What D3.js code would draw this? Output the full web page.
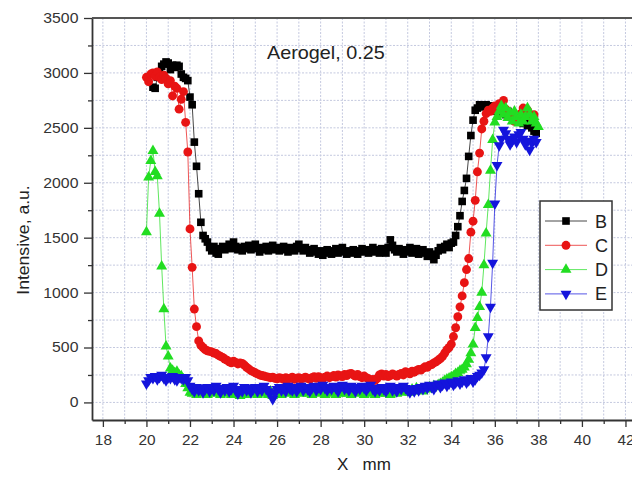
<!DOCTYPE html>
<html>
<head>
<meta charset="utf-8">
<script src="https://cdn.jsdelivr.net/npm/d3@7/dist/d3.min.js"></script>
<style>
  body { margin: 0; background: #fff; }
  svg { display: block; font-family: "Liberation Sans", Arial, sans-serif; }
</style>
</head>
<body>
<div id="chart"></div>
<script>
// Config
const width = 632;
const height = 481;
const plotLeft = 92, plotRight = 632, plotTop = 18, plotBottom = 420;

// Data: intensity, one value every 0.1 mm starting at x0
const step = 0.1;
const seriesNames = ["B", "C", "D", "E"];
const x0B = 20.3, x0C = 20.0, x0D = 20.0, x0E = 20.0;

const intensityB = [
  2870, 2860, 2960, 3010, 3060, 3080, 3100, 3090, 3030, 3070, 3050, 3070, 3060, 2990, 2960, 2950, 2930,
  2780, 2710, 2370, 2150, 1900, 1640, 1520, 1490, 1460, 1410,
  1380, 1420, 1360, 1350, 1400, 1420, 1390, 1410, 1440, 1400,
  1460, 1420, 1390, 1410, 1380, 1420, 1400, 1430, 1390, 1410,
  1440, 1400, 1370, 1410, 1390, 1420, 1380, 1400, 1430, 1390,
  1410, 1380, 1400, 1420, 1390, 1370, 1410, 1400, 1380, 1420,
  1440, 1400, 1380, 1410, 1390, 1360, 1380, 1400, 1370, 1350,
  1380, 1340, 1360, 1390, 1370, 1350, 1380, 1400, 1360, 1380,
  1410, 1370, 1350, 1380, 1360, 1390, 1370, 1350, 1380, 1400,
  1370, 1390, 1360, 1380, 1410, 1370, 1390, 1360, 1400, 1380,
  1360, 1410, 1480, 1430, 1390, 1370, 1400, 1380, 1350, 1390,
  1370, 1410, 1360, 1380, 1400, 1350, 1370, 1390, 1360, 1330,
  1370, 1350, 1300, 1340, 1380, 1410, 1390, 1420, 1440, 1410,
  1450, 1460, 1520, 1600, 1700, 1830, 1930, 2040, 2240, 2430,
  2570, 2660, 2680, 2710, 2700, 2690, 2710, 2680, 2700, 2660,
  2690, 2650, 2680, 2640, 2660, 2620, 2650, 2600, 2630, 2580,
  2620, 2560, 2600, 2540, 2580, 2520, 2560, 2500, 2470, 2450
];

const intensityC = [
  2960, 2920, 2990, 3000, 2970, 3010, 2960, 2940, 2980, 2950,
  2900, 2930, 2790, 2880, 2860, 2670, 2760, 2830, 2550, 2280,
  1580, 1230, 850, 690, 560, 520, 500, 480, 470, 465,
  460, 450, 445, 430, 420, 410, 395, 385, 370, 360,
  375, 365, 350, 360, 355, 340, 320, 305, 290, 280,
  270, 260, 250, 245, 240, 235, 230, 225, 230, 220,
  215, 225, 220, 210, 225, 215, 220, 230, 210, 220,
  225, 215, 220, 230, 220, 210, 225, 235, 220, 235,
  225, 215, 230, 240, 225, 235, 245, 230, 250, 240,
  235, 255, 245, 260, 265, 250, 240, 255, 235, 225,
  240, 225, 215, 205, 210, 200, 220, 250, 260, 240,
  255, 235, 245, 260, 250, 240, 255, 265, 250, 280,
  270, 260, 285, 275, 290, 300, 295, 310, 325, 320,
  340, 345, 360, 370, 385, 400, 420, 450, 480, 500,
  530, 600, 680, 780, 870, 970, 1090, 1210, 1310, 1550,
  1650, 1840, 2100, 2270, 2490, 2560, 2630, 2660, 2650, 2680,
  2700, 2660, 2720, 2700, 2750, 2670, 2640, 2600, 2620, 2560,
  2580, 2600, 2630, 2680, 2650, 2660, 2610, 2590, 2620
];

const intensityD = [
  1550, 2050, 2200, 2290, 2100, 2060, 1720, 1240, 850, 510,
  420, 310, 290, 270, 280, 250, 240, 210, 170, 130,
  90, 80, 100, 70, 90, 110, 80, 100, 70, 90,
  120, 80, 100, 90, 70, 110, 90, 80, 100, 70,
  90, 110, 80, 60, 90, 100, 70, 90, 110, 80,
  100, 70, 90, 80, 110, 90, 70, 100, 60, 90,
  80, 100, 70, 90, 110, 80, 100, 90, 70, 100,
  120, 80, 90, 110, 80, 100, 70, 90, 110, 80,
  100, 90, 70, 100, 80, 110, 90, 70, 100, 80,
  90, 110, 80, 100, 70, 90, 110, 80, 100, 90,
  70, 100, 80, 110, 90, 70, 100, 80, 90, 110,
  80, 100, 70, 90, 110, 80, 100, 90, 120, 100,
  110, 90, 120, 100, 130, 110, 120, 100, 130, 120,
  140, 130, 150, 140, 160, 170, 180, 200, 210, 220,
  230, 240, 260, 270, 290, 300, 320, 350, 390, 450,
  530, 680, 770, 870, 1000, 1250, 1540, 1800, 2110, 2390,
  2550, 2600, 2650, 2700, 2620, 2680, 2590, 2640, 2560, 2650,
  2600, 2540, 2620, 2560, 2600, 2680, 2620, 2560, 2600, 2540,
  2510
];

const intensityE = [
  170, 200, 230, 220, 240, 210, 230, 250, 220, 200,
  230, 220, 240, 210, 200, 230, 220, 210, 230, 200,
  150, 120, 100, 140, 110, 130, 90, 120, 140, 100,
  130, 110, 150, 120, 90, 130, 110, 140, 100, 120,
  150, 110, 80, 120, 100, 140, 110, 130, 90, 120,
  140, 100, 130, 110, 150, 120, 100, 90, 30, 80,
  120, 140, 110, 130, 100, 150, 120, 110, 140, 100,
  130, 150, 110, 140, 120, 100, 130, 150, 110, 140,
  120, 160, 130, 110, 140, 120, 150, 130, 100, 140,
  160, 120, 140, 110, 150, 130, 100, 140, 120, 150,
  130, 110, 140, 160, 120, 100, 130, 110, 140, 120,
  100, 130, 150, 110, 130, 100, 140, 120, 150, 130,
  110, 90, 120, 100, 130, 110, 140, 120, 150, 130,
  160, 140, 120, 150, 170, 140, 160, 180, 150, 170,
  190, 160, 180, 200, 170, 190, 210, 180, 200, 220,
  190, 210, 240, 250, 270, 300, 410, 600, 870, 1270,
  1810, 2160, 2340, 2400, 2480, 2450, 2400, 2350, 2380, 2420,
  2370, 2440, 2460, 2400, 2350, 2380, 2300, 2360, 2400, 2370
];

const xTicks = [18, 20, 22, 24, 26, 28, 30, 32, 34, 36, 38, 40, 42];
const xMinorTicks = [19, 21, 23, 25, 27, 29, 31, 33, 35, 37, 39, 41];
const yTicks = [0, 500, 1000, 1500, 2000, 2500, 3000, 3500];
const yMinorTicks = [250, 750, 1250, 1750, 2250, 2750, 3250];

const titleText = "Aerogel, 0.25";
const xLabel = "X   mm";
const yLabel = "Intensive, a.u.";

// Styles
const colors = { B: "#000000", C: "#e81414", D: "#22dd22", E: "#1414dc" };
const symbols = { B: d3.symbolSquare, C: d3.symbolCircle, D: d3.symbolTriangle, E: d3.symbolTriangle };
const symbolSizes = { B: 58, C: 62, D: 52, E: 52 };
const symbolRotate = { B: 0, C: 0, D: 0, E: 180 };

function buildSeries() {
    const raw = { B: [x0B, intensityB], C: [x0C, intensityC], D: [x0D, intensityD], E: [x0E, intensityE] };
    return seriesNames.map(name => {
        const [start, values] = raw[name];
        return {
            name,
            points: values.map((v, i) => [+(start + i * step).toFixed(2), v])
        };
    });
}

function init() {
    const svg = d3.select("#chart")
        .append("svg")
        .attr("width", width)
        .attr("height", height);

    const x = d3.scaleLinear().domain([17.5, 42.3]).range([plotLeft, plotRight]);
    const y = d3.scaleLinear().domain([-160, 3500]).range([plotBottom, plotTop]);

    // Grid
    const grid = svg.append("g").attr("class", "grid")
        .attr("stroke", "#c4c9df")
        .attr("stroke-width", 1)
        .attr("stroke-dasharray", "2,1.5");

    grid.selectAll(".gx")
        .data(xTicks.concat(xMinorTicks))
        .join("line")
        .attr("x1", d => x(d)).attr("x2", d => x(d))
        .attr("y1", plotTop).attr("y2", plotBottom);

    grid.selectAll(".gy")
        .data(yTicks.concat(yMinorTicks))
        .join("line")
        .attr("x1", plotLeft).attr("x2", plotRight)
        .attr("y1", d => y(d)).attr("y2", d => y(d));

    // Series
    const series = buildSeries();
    const line = d3.line().x(d => x(d[0])).y(d => y(d[1]));
    const plots = svg.append("g").attr("class", "plots");

    series.forEach(s => {
        const g = plots.append("g");
        g.append("path")
            .datum(s.points)
            .attr("d", line)
            .attr("fill", "none")
            .attr("stroke", colors[s.name])
            .attr("stroke-width", 0.9)
            .attr("stroke-opacity", 0.8);

        const sym = d3.symbol().type(symbols[s.name]).size(symbolSizes[s.name]);
        g.selectAll("path.pt")
            .data(s.points)
            .join("path")
            .attr("class", "pt")
            .attr("d", sym)
            .attr("transform", d => `translate(${x(d[0])},${y(d[1])}) rotate(${symbolRotate[s.name]})`)
            .attr("fill", colors[s.name]);
    });

    drawAxes(svg, x, y);
    drawLegend(svg);
    drawTexts(svg);
}

function drawAxes(svg, x, y) {
    const axisColor = "#333";

    // minor ticks
    svg.append("g")
        .attr("transform", `translate(0,${plotBottom})`)
        .call(d3.axisBottom(x).tickValues(xMinorTicks).tickSize(4).tickFormat(""))
        .call(g => g.select(".domain").remove());
    svg.append("g")
        .attr("transform", `translate(${plotLeft},0)`)
        .call(d3.axisLeft(y).tickValues(yMinorTicks).tickSize(4).tickFormat(""))
        .call(g => g.select(".domain").remove());

    const xAxis = svg.append("g")
        .attr("transform", `translate(0,${plotBottom})`)
        .call(d3.axisBottom(x).tickValues(xTicks).tickFormat(d3.format("d"))
            .tickSize(7).tickPadding(8).tickSizeOuter(0));
    const yAxis = svg.append("g")
        .attr("transform", `translate(${plotLeft},0)`)
        .call(d3.axisLeft(y).tickValues(yTicks).tickFormat(d3.format("d"))
            .tickSize(8).tickPadding(4).tickSizeOuter(0));

    [xAxis, yAxis].forEach(a => {
        a.select(".domain").attr("stroke", axisColor).attr("stroke-width", 1.8);
        a.selectAll(".tick text")
            .attr("fill", "#333")
            .style("font-size", "14px")
            .style("font-family", "'Liberation Sans', Arial, sans-serif");
    });
    xAxis.selectAll(".tick text").attr("transform", "scale(1.1,1)");
    yAxis.selectAll(".tick text").attr("transform", "scale(1.13,1)");
    svg.selectAll(".tick line").attr("stroke", axisColor).attr("stroke-width", 1.3);

    // top frame
    svg.append("line")
        .attr("x1", plotLeft).attr("x2", plotRight)
        .attr("y1", plotTop).attr("y2", plotTop)
        .attr("stroke", "#555").attr("stroke-width", 1.8);
}

function drawLegend(svg) {
    const lg = svg.append("g").attr("class", "legend");
    lg.append("rect")
        .attr("x", 540).attr("y", 201)
        .attr("width", 72).attr("height", 109)
        .attr("fill", "#fff")
        .attr("stroke", "#333")
        .attr("stroke-width", 1.5);

    seriesNames.forEach((name, i) => {
        const cy = 221 + i * 24.3;
        lg.append("line")
            .attr("x1", 545).attr("x2", 587)
            .attr("y1", cy).attr("y2", cy)
            .attr("stroke", colors[name])
            .attr("stroke-width", 0.9)
            .attr("stroke-opacity", 0.8);
        lg.append("path")
            .attr("d", d3.symbol().type(symbols[name]).size(symbolSizes[name])())
            .attr("transform", `translate(566,${cy}) rotate(${symbolRotate[name]})`)
            .attr("fill", colors[name]);
        lg.append("text")
            .attr("x", 595).attr("y", cy + 6.5)
            .attr("fill", "#222")
            .style("font-size", "18px")
            .text(name);
    });
}

function drawTexts(svg) {
    svg.append("text")
        .attr("x", 267).attr("y", 59)
        .attr("transform", "translate(267,0) scale(1.1,1) translate(-267,0)")
        .attr("fill", "#222")
        .style("font-size", "18px")
        .text(titleText);

    svg.append("text")
        .attr("x", 337).attr("y", 470)
        .attr("fill", "#222")
        .style("font-size", "17px")
        .style("white-space", "pre")
        .attr("xml:space", "preserve")
        .text(xLabel);

    svg.append("text")
        .attr("transform", "translate(29,240) rotate(-90) scale(1.1,1)")
        .attr("text-anchor", "middle")
        .attr("fill", "#222")
        .style("font-size", "16px")
        .text(yLabel);
}

document.addEventListener("DOMContentLoaded", init);
</script>
</body>
</html>
